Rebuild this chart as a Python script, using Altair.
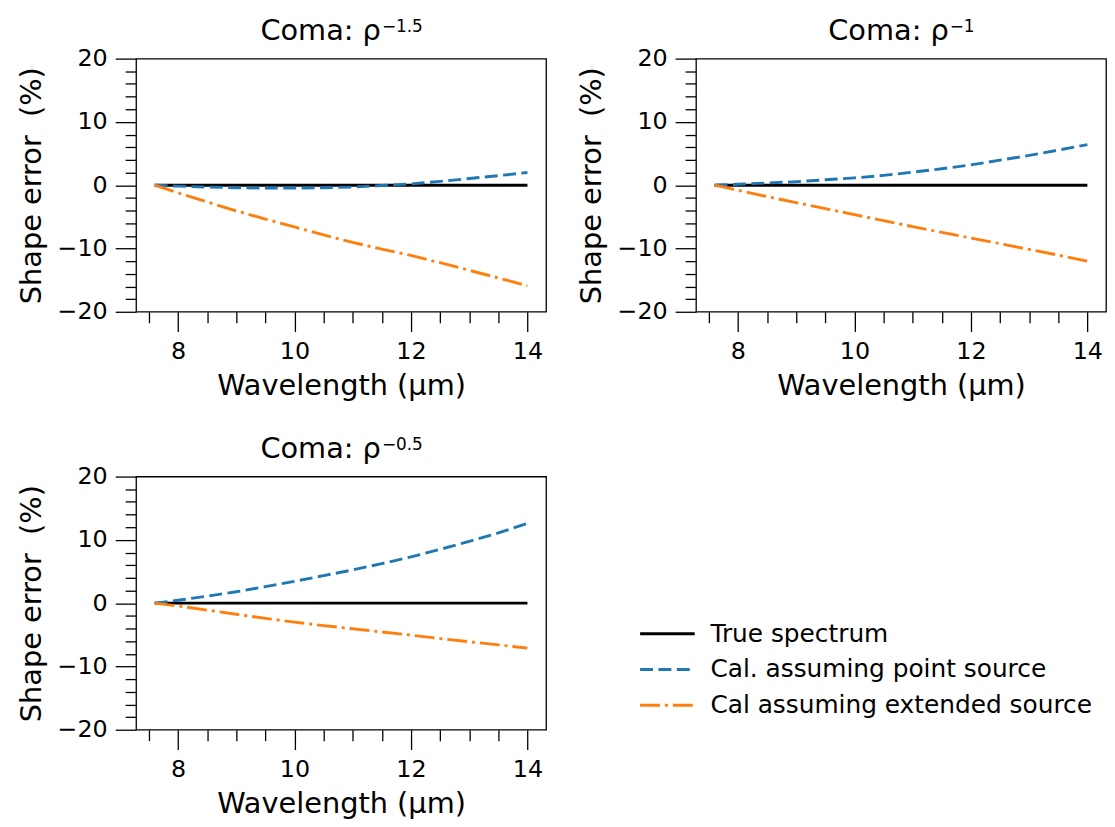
import altair as alt
import pandas as pd

# ---------------- data ----------------
wavelength = [7.6, 8.0, 8.5, 9.0, 9.5, 10.0, 10.5, 11.0, 11.5, 12.0, 12.5, 13.0, 13.5, 14.0]

true_spectrum = [0.0, 0.0, 0.0, 0.0, 0.0, 0.0, 0.0, 0.0, 0.0, 0.0, 0.0, 0.0, 0.0, 0.0]

# Coma rho^-1.5
point_15 = [0.0, -0.15, -0.3, -0.4, -0.45, -0.45, -0.4, -0.3, -0.05, 0.2, 0.6, 1.05, 1.5, 2.0]
ext_15 = [0.0, -1.2, -2.65, -4.05, -5.35, -6.6, -7.85, -9.05, -10.1, -11.1, -12.25, -13.45, -14.65, -15.9]

# Coma rho^-1
point_10 = [0.0, 0.15, 0.35, 0.55, 0.85, 1.15, 1.55, 2.05, 2.6, 3.2, 3.95, 4.7, 5.55, 6.4]
ext_10 = [0.0, -0.8, -1.8, -2.75, -3.7, -4.65, -5.6, -6.55, -7.45, -8.35, -9.25, -10.15, -11.05, -12.0]

# Coma rho^-0.5
point_05 = [0.0, 0.45, 1.1, 1.8, 2.6, 3.45, 4.35, 5.25, 6.25, 7.3, 8.5, 9.75, 11.1, 12.6]
ext_05 = [0.0, -0.45, -1.1, -1.75, -2.4, -3.0, -3.55, -4.05, -4.55, -5.05, -5.6, -6.1, -6.6, -7.1]

series_names = ["True spectrum", "Cal. assuming point source", "Cal assuming extended source"]
panel_titles = ["Coma: ρ", "Coma: ρ", "Coma: ρ"]
panel_exponents = ["−1.5", "−1", "−0.5"]

x_major = [8, 10, 12, 14]
x_minor = [7.5, 8.5, 9.0, 9.5, 10.5, 11.0, 11.5, 12.5, 13.0, 13.5]
y_major = [-20, -10, 0, 10, 20]
y_minor = [-18, -16, -14, -12, -8, -6, -4, -2, 2, 4, 6, 8, 12, 14, 16, 18]

# ---------------- styling ----------------
colors = ["#000000", "#1f77b4", "#ff7f0e"]
dashes = [[1, 0], [13, 5.5], [20, 5, 3, 5]]
LW = 2.9
W, H = 413, 255
FONT = "DejaVu Sans"


def make_df(point, ext):
    rows = []
    for name, vals in zip(series_names, [true_spectrum, point, ext]):
        for w, v in zip(wavelength, vals):
            rows.append({"wl": w, "err": v, "series": name})
    return pd.DataFrame(rows)


xs = alt.Scale(domain=[7.28, 14.32], nice=False, zero=False)
ys = alt.Scale(domain=[-20, 20], nice=False, zero=False)
color_enc = alt.Color("series:N", scale=alt.Scale(domain=series_names, range=colors), legend=None)
dash_enc = alt.StrokeDash("series:N", scale=alt.Scale(domain=series_names, range=dashes), legend=None)

common_axis = dict(grid=False, domain=False, tickColor="black", tickWidth=1.3,
                   labelFlush=False, labelOverlap=False)


def panel(df, title, exponent, split):
    df_true = df[df["series"] == series_names[0]]
    df_cal = df[df["series"] != series_names[0]]

    minor = alt.Chart(df_true).mark_line(strokeWidth=LW, color="black").encode(
        x=alt.X("wl:Q", scale=xs, axis=alt.Axis(orient="bottom", values=x_minor, tickSize=11,
                                                 labels=False, title=None, **common_axis)),
        y=alt.Y("err:Q", scale=ys, axis=alt.Axis(orient="left", values=y_minor, tickSize=11,
                                                  labels=False, title=None, **common_axis)),
    )
    major = alt.Chart(df_cal).mark_line(strokeWidth=LW).encode(
        x=alt.X("wl:Q", scale=xs, axis=alt.Axis(orient="bottom", values=x_major, tickSize=20,
                                                 labelPadding=8, labelFontSize=24,
                                                 title="Wavelength (μm)", titleFontSize=29,
                                                 titlePadding=8, **common_axis)),
        y=alt.Y("err:Q", scale=ys, axis=alt.Axis(orient="left", values=y_major, tickSize=21,
                                                  labelPadding=8, labelFontSize=24,
                                                  title="Shape error\u00a0 (%)", titleFontSize=29,
                                                  titlePadding=11, **common_axis)),
        color=color_enc,
        strokeDash=dash_enc,
    )
    tdf = pd.DataFrame({"main": [title], "exp": [exponent]})
    t_main = alt.Chart(tdf).mark_text(align="right", baseline="alphabetic", fontSize=29,
                                      font=FONT, color="black").encode(
        text="main:N", x=alt.value(split), y=alt.value(-18.3))
    t_exp = alt.Chart(tdf).mark_text(align="left", baseline="alphabetic", fontSize=17,
                                     font=FONT, color="black").encode(
        text="exp:N", x=alt.value(split + 1), y=alt.value(-26.6))
    return alt.layer(minor, major, t_main, t_exp).resolve_axis(
        x="independent", y="independent").properties(
        width=W, height=H, view=alt.ViewBackground(stroke="black", strokeWidth=1.3))


p1 = panel(make_df(point_15, ext_15), panel_titles[0], panel_exponents[0], 246.6)
p2 = panel(make_df(point_10, ext_10), panel_titles[1], panel_exponents[1], 254.6)
p3 = panel(make_df(point_05, ext_05), panel_titles[2], panel_exponents[2], 246.6)

# ---------------- legend panel ----------------
leg_df = pd.DataFrame({"series": series_names, "row": [0, 1, 2]})
ly = alt.Y("row:Q", scale=alt.Scale(domain=[0, 2], range=[158.3, 230.3]), axis=None)
leg_rule = alt.Chart(leg_df).mark_rule(strokeWidth=LW).encode(
    x=alt.value(64.7), x2=alt.value(119.7), y=ly, color=color_enc, strokeDash=dash_enc)
leg_text = alt.Chart(leg_df).mark_text(align="left", baseline="middle", fontSize=25,
                                       font=FONT, color="black").encode(
    x=alt.value(135.5), y=ly, text="series:N")
leg = alt.layer(leg_rule, leg_text).properties(
    width=W, height=H, view=alt.ViewBackground(strokeOpacity=0))

chart = alt.vconcat(
    alt.hconcat(p1, p2, spacing=29),
    alt.hconcat(p3, leg, spacing=29),
    spacing=34,
).properties(
    padding={"left": 8, "top": 6, "right": 0, "bottom": 5}
).configure(font=FONT).configure_axis(
    labelFont=FONT, titleFont=FONT, labelColor="black", titleColor="black",
    titleFontWeight="normal"
).configure_view(stroke="black", strokeWidth=1.3)

chart.save("out.html", embed_options={"renderer": "svg", "actions": False})
